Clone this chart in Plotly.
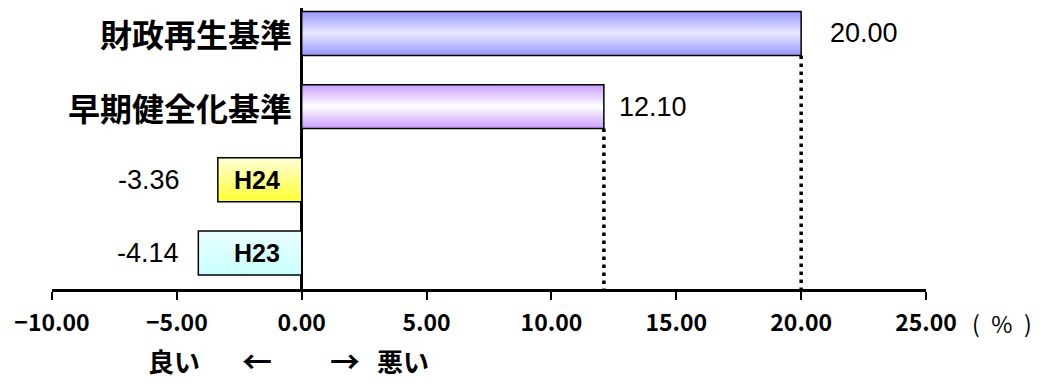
import plotly.graph_objects as go

# ---- data (bottom to top) ----
categories = ["H23", "H24", "早期健全化基準", "財政再生基準"]
values = [-4.14, -3.36, 12.10, 20.00]
value_labels = ["-4.14", "-3.36", "12.10", "20.00"]
tick_vals = [-10, -5, 0, 5, 10, 15, 20, 25]
reference_lines = [12.10, 20.00]  # dotted guides to the axis

# ---- styles ----
bar_gradients = [
    [[0, "#c8ffff"], [1, "#eaffff"]],                      # H23
    [[0, "#ffff30"], [1, "#ffffd8"]],                      # H24
    [[0, "#c99cff"], [0.5, "#ffffff"], [1, "#c99cff"]],    # 早期健全化基準
    [[0, "#9898ff"], [0.5, "#e8e8ff"], [1, "#9898ff"]],    # 財政再生基準
]
label_gap_px = [17, 36, 13, 27]
bar_w = 0.6
y_range = [-0.492, 3.348]
JP = "Noto Sans CJK JP"

fig = go.Figure()

for i, (cat, v) in enumerate(zip(categories, values)):
    y0, y1 = i - bar_w / 2, i + bar_w / 2
    fig.add_trace(go.Scatter(
        x=[0, v, v, 0, 0], y=[y0, y0, y1, y1, y0],
        mode="lines", fill="toself",
        fillgradient=dict(type="vertical", colorscale=bar_gradients[i]),
        line=dict(color="black", width=1.5),
        hoverinfo="skip", showlegend=False,
    ))

# dotted reference lines from bar bottom down to axis
for rv in reference_lines:
    idx = values.index(rv)
    fig.add_trace(go.Scatter(
        x=[rv, rv], y=[idx - bar_w / 2, y_range[0]],
        mode="lines", line=dict(color="black", width=3.5, dash="3.5px,4.5px"),
        hoverinfo="skip", showlegend=False,
    ))

annotations = []
for i, (cat, v, lab) in enumerate(zip(categories, values, value_labels)):
    if v >= 0:
        annotations.append(dict(x=0, y=i, xref="x", yref="y", text=cat,
                                showarrow=False, xanchor="right", xshift=-8,
                                font=dict(family=JP, size=32, color="black", weight="bold")))
        annotations.append(dict(x=v, y=i, xref="x", yref="y", text=lab,
                                showarrow=False, xanchor="left", xshift=label_gap_px[i],
                                font=dict(family="Liberation Sans", size=27, color="black")))
    else:
        annotations.append(dict(x=0, y=i, xref="x", yref="y", text=cat,
                                showarrow=False, xanchor="right", xshift=-20,
                                font=dict(family="Liberation Sans", size=25, color="black", weight="bold")))
        annotations.append(dict(x=v, y=i, xref="x", yref="y", text=lab,
                                showarrow=False, xanchor="right", xshift=-label_gap_px[i],
                                font=dict(family="Liberation Sans", size=27, color="black")))

# unit and direction labels
annotations.append(dict(x=1.087, y=-0.121, xref="paper", yref="paper", text="(\u2002%\u2002)",
                        showarrow=False, xanchor="center", yanchor="middle",
                        font=dict(family=JP, size=23, color="black")))
for txt, xv, sz in [("良い", -5.13, 26), ("←", -1.8, 30), ("→", 1.72, 30), ("悪い", 4.04, 26)]:
    annotations.append(dict(x=xv, y=-0.253, xref="x", yref="paper", text=txt,
                            showarrow=False, xanchor="center", yanchor="middle",
                            font=dict(family=JP, size=sz, color="black", weight="bold")))

fig.update_layout(
    width=1046, height=390,
    margin=dict(l=52, r=120, t=8, b=101),
    paper_bgcolor="white", plot_bgcolor="white",
    annotations=annotations,
    xaxis=dict(
        range=[-10, 25], tickvals=tick_vals, tickformat=".2f",
        showgrid=False, zeroline=True, zerolinecolor="black", zerolinewidth=3,
        showline=True, linecolor="black", linewidth=2.5,
        ticks="outside", ticklen=8, tickwidth=1.5, tickcolor="black",
        ticklabelstandoff=4,
        tickfont=dict(family=JP, size=23, color="black", weight="bold"),
        fixedrange=True,
    ),
    yaxis=dict(range=y_range, showgrid=False, zeroline=False, showline=False,
               showticklabels=False, ticks="", fixedrange=True),
)

fig.write_html("out.html")
